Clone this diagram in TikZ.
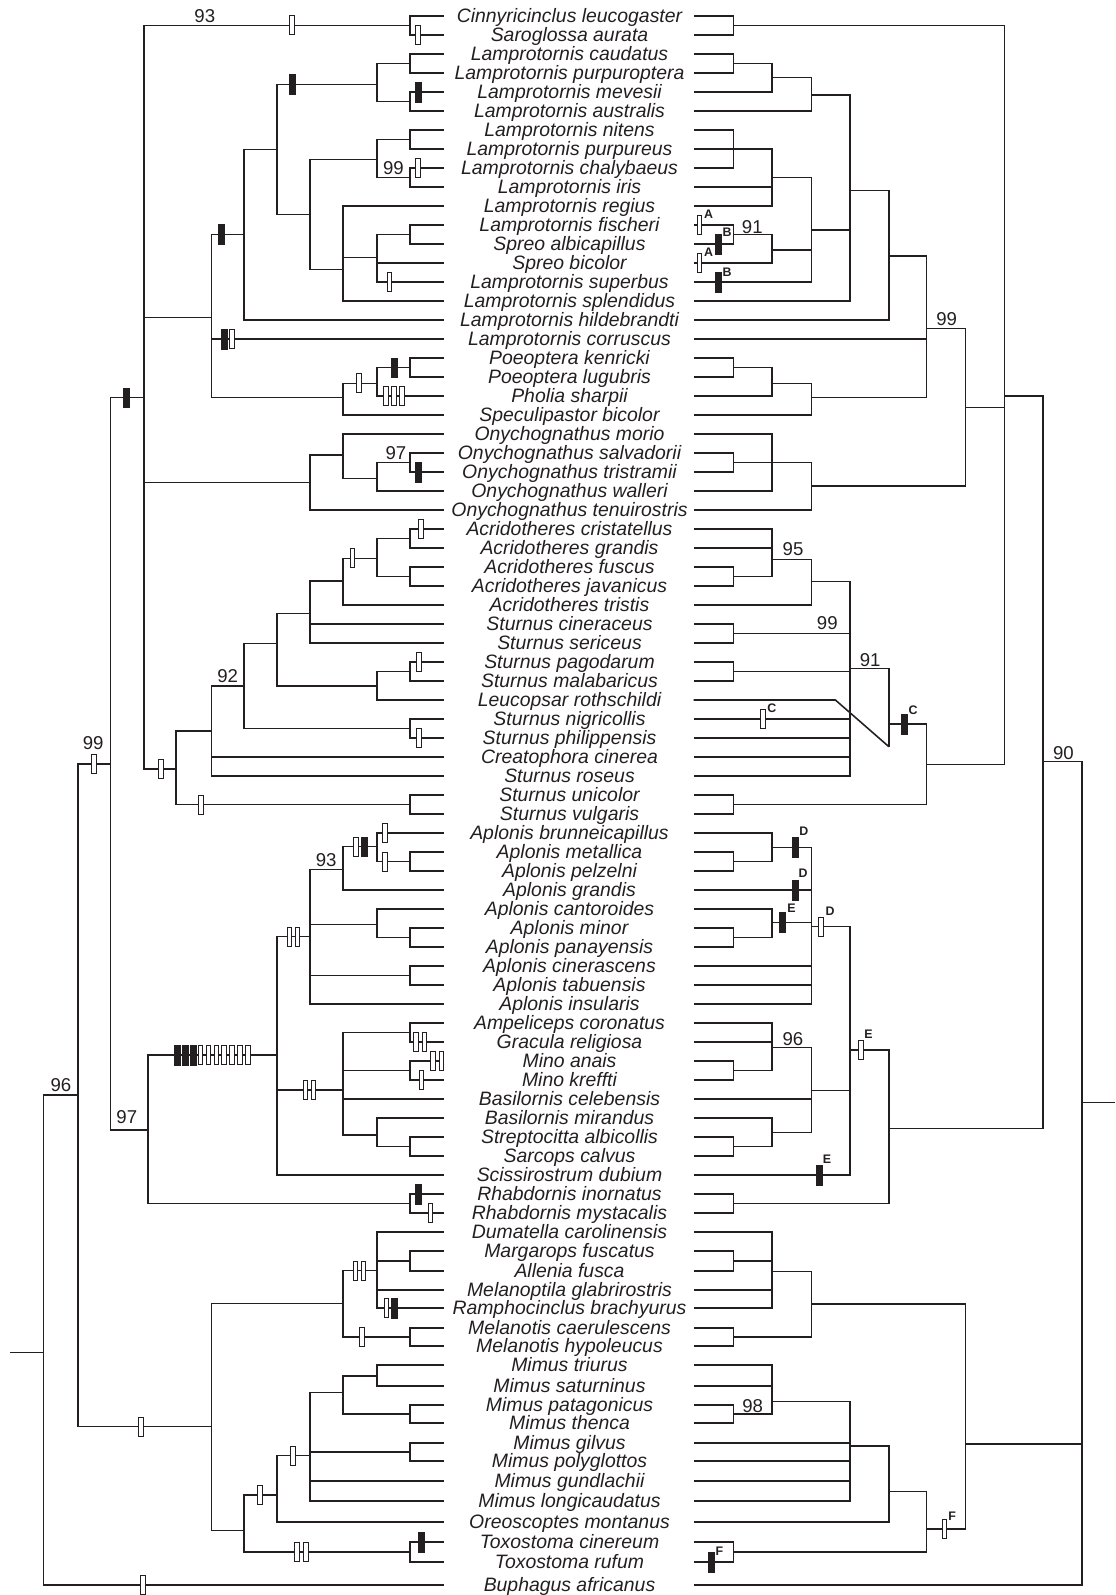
\documentclass[tikz,border=0pt]{standalone}
\usepackage{fontspec}
\setmainfont{Liberation Sans}
\definecolor{ln}{RGB}{35,31,32}
\newcounter{mkc}
\newcounter{lbc}
\newcounter{bsc}
\newcommand\tkids[2]{\foreach \cc in {#2} {\draw[tree] (#1) |- (\cc);}}
\newcommand\omk[2]{\stepcounter{mkc}\node[omark] (mk\arabic{mkc}) at (#1,#2) {};}
\newcommand\fmk[2]{\stepcounter{mkc}\node[fmark] (mk\arabic{mkc}) at (#1,#2) {};}
\newcommand\mlb[3]{\stepcounter{lbc}\node[mlabel] (lb\arabic{lbc}) at (#1,#2) {#3};}
\newcommand\bsn[3]{\stepcounter{bsc}\node[bsnum] (bs\arabic{bsc}) at (#1,#2) {#3};}
\def\lxA{43.6}\def\lxB{77.9}\def\lxC{110.7}\def\lxD{143.9}\def\lxDb{148.2}
\def\lxE{176.1}\def\lxF{211.4}\def\lxG{243.9}\def\lxH{276.8}\def\lxI{310}
\def\lxJ{342.9}\def\lxK{376.8}\def\lxL{410}\def\lxN{443.9}
\def\rxS{693.6}\def\rxA{733.6}\def\rxB{772.1}\def\rxC{811.4}\def\rxD{850}
\def\rxE{888.9}\def\rxF{926.4}\def\rxG{965.7}\def\rxH{1004.3}\def\rxI{1043.2}\def\rxJ{1081.8}
\begin{document}
\begin{tikzpicture}[x=0.5pt,y=-0.5pt,
  tree/.style={line width=0.78pt, draw=ln},
  omark/.style={draw=ln, fill=white, line width=0.5pt, minimum width=2.3pt, minimum height=9.5pt, inner sep=0pt, outer sep=0pt},
  fmark/.style={draw=ln, fill=ln, line width=0.2pt, minimum width=3pt, minimum height=9.8pt, inner sep=0pt, outer sep=0pt},
  taxon/.style={anchor=base, inner sep=0pt, font=\fontsize{9.7}{11}\selectfont\itshape, text=ln},
  bsnum/.style={inner sep=0pt, font=\fontsize{9.3}{10}\selectfont, text=ln},
  mlabel/.style={inner sep=0pt, font=\fontsize{6.2}{7}\selectfont\bfseries, text=ln}]
\path[use as bounding box] (0,0) rectangle (1115,1595);
% leaves and names
\foreach \yy/\tx [count=\ii] in {16/Cinnyricinclus leucogaster,35/Saroglossa aurata,54/Lamprotornis caudatus,73/Lamprotornis purpuroptera,92/Lamprotornis mevesii,111/Lamprotornis australis,130/Lamprotornis nitens,149/Lamprotornis purpureus,168/Lamprotornis chalybaeus,187/Lamprotornis iris,206/Lamprotornis regius,225/Lamprotornis fischeri,244/Spreo albicapillus,263/Spreo bicolor,282/Lamprotornis superbus,301/Lamprotornis splendidus,320/Lamprotornis hildebrandti,339/Lamprotornis corruscus,358/Poeoptera kenricki,377/Poeoptera lugubris,396/Pholia sharpii,415/Speculipastor bicolor,434/Onychognathus morio,453/Onychognathus salvadorii,472/Onychognathus tristramii,491/Onychognathus walleri,510/Onychognathus tenuirostris,529/Acridotheres cristatellus,548/Acridotheres grandis,567/Acridotheres fuscus,586/Acridotheres javanicus,605/Acridotheres tristis,624/Sturnus cineraceus,643/Sturnus sericeus,662/Sturnus pagodarum,681/Sturnus malabaricus,700/Leucopsar rothschildi,719/Sturnus nigricollis,738/Sturnus philippensis,757/Creatophora cinerea,776/Sturnus roseus,795/Sturnus unicolor,814/Sturnus vulgaris,833/Aplonis brunneicapillus,852/Aplonis metallica,871/Aplonis pelzelni,890/Aplonis grandis,909/Aplonis cantoroides,928/Aplonis minor,947/Aplonis panayensis,966/Aplonis cinerascens,985/Aplonis tabuensis,1004/Aplonis insularis,1023/Ampeliceps coronatus,1042/Gracula religiosa,1061/Mino anais,1080/Mino kreffti,1099/Basilornis celebensis,1118/Basilornis mirandus,1137/Streptocitta albicollis,1156/Sarcops calvus,1175/Scissirostrum dubium,1194/Rhabdornis inornatus,1213/Rhabdornis mystacalis,1232/Dumatella carolinensis,1251/Margarops fuscatus,1271/Allenia fusca,1290/Melanoptila glabrirostris,1308/Ramphocinclus brachyurus,1328/Melanotis caerulescens,1346/Melanotis hypoleucus,1365/Mimus triurus,1386/Mimus saturninus,1405/Mimus patagonicus,1423/Mimus thenca,1443/Mimus gilvus,1461/Mimus polyglottos,1481/Mimus gundlachii,1501/Mimus longicaudatus,1522/Oreoscoptes montanus,1542/Toxostoma cinereum,1562/Toxostoma rufum,1585/Buphagus africanus}{
  \coordinate (lf\ii) at (\lxN,\yy);
  \coordinate (rf\ii) at (\rxS,\yy);
  \node[taxon] (t\ii) at (569.5,\yy+6.65) {\tx};
}
% ---------------- left tree ----------------
\coordinate (L0) at (10,1352.7);
\coordinate (Lr) at (\lxA,1352.7);
\coordinate (L96) at (\lxB,1095);
\coordinate (L99) at (\lxC,764);
\coordinate (Lmim) at (\lxF,1426.7);
\coordinate (LA) at (\lxD,397.7);
\coordinate (L97) at (\lxDb,1130);
\coordinate (Ltop) at (\lxL,25.5);
\coordinate (LB) at (\lxF,317.7);
\coordinate (LOny) at (\lxI,482.7);
\coordinate (LSt) at (\lxE,769);
\coordinate (LC) at (\lxG,234.3);
\coordinate (LPo) at (\lxJ,397.7);
\coordinate (LD) at (\lxH,149.3);
\coordinate (LE1) at (\lxK,84.3);
\coordinate (LF) at (\lxI,214.3);
\coordinate (LG) at (\lxL,63.5);
\coordinate (LH) at (\lxL,101.5);
\coordinate (LI) at (\lxK,159.3);
\coordinate (LJ) at (\lxJ,269.3);
\coordinate (LK) at (\lxL,139.5);
\coordinate (LL) at (\lxL,177.5);
\coordinate (LM) at (\lxK,257.7);
\coordinate (LN) at (\lxL,234.5);
\coordinate (LP) at (\lxK,383.3);
\coordinate (LQ) at (\lxL,367.5);
\coordinate (LR) at (\lxJ,455);
\coordinate (LS) at (\lxK,478.3);
\coordinate (LT) at (\lxL,462.5);
\coordinate (LU) at (\lxF,731);
\coordinate (LV) at (\lxL,804.5);
\coordinate (LW) at (\lxG,686);
\coordinate (LX) at (\lxH,643.3);
\coordinate (LY) at (\lxL,728.5);
\coordinate (LZ) at (\lxI,613.3);
\coordinate (Laa) at (\lxK,686);
\coordinate (Lab) at (\lxL,671.5);
\coordinate (Lac) at (\lxJ,581);
\coordinate (Lad) at (\lxK,558.3);
\coordinate (Lae) at (\lxL,538.5);
\coordinate (Laf) at (\lxL,576.5);
\coordinate (Lag) at (\lxH,1055);
\coordinate (Lah) at (\lxL,1203.5);
\coordinate (Lai) at (\lxI,936.7);
\coordinate (Laj) at (\lxJ,1090);
\coordinate (Lak) at (\lxJ,869.3);
\coordinate (Lal) at (\lxK,924.3);
\coordinate (Lam) at (\lxL,975.5);
\coordinate (Lan) at (\lxK,846.7);
\coordinate (Lao) at (\lxL,861.5);
\coordinate (Lap) at (\lxL,937.5);
\coordinate (Laq) at (\lxL,1032.5);
\coordinate (Lar) at (\lxL,1070.5);
\coordinate (Las) at (\lxK,1135);
\coordinate (Lat) at (\lxL,1146.5);
\coordinate (Lau) at (\lxJ,1303.3);
\coordinate (Lav) at (\lxG,1530.7);
\coordinate (Law) at (\lxK,1270.7);
\coordinate (Lax) at (\lxL,1337);
\coordinate (Lay) at (\lxL,1261);
\coordinate (Laz) at (\lxH,1495);
\coordinate (Lba) at (\lxL,1552);
\coordinate (Lbb) at (\lxI,1455.7);
\coordinate (Lbc) at (\lxJ,1392.7);
\coordinate (Lbd) at (\lxL,1452);
\coordinate (Lbe) at (\lxK,1376);
\coordinate (Lbf) at (\lxL,1414);
\draw[tree] (L0) -- (Lr);
\tkids{Lr}{L96,lf83}
\tkids{L96}{L99,Lmim}
\tkids{L99}{LA,L97}
\tkids{LA}{Ltop,LB,LOny,LSt}
\tkids{Ltop}{lf1,lf2}
\tkids{LB}{LC,lf18,LPo}
\tkids{LC}{LD,lf17}
\tkids{LD}{LE1,LF}
\tkids{LE1}{LG,LH}
\tkids{LG}{lf3,lf4}
\tkids{LH}{lf5,lf6}
\tkids{LF}{LI,LJ}
\tkids{LI}{LK,LL}
\tkids{LK}{lf7,lf8}
\tkids{LL}{lf9,lf10}
\tkids{LJ}{lf11,LM,lf16}
\tkids{LM}{LN,lf14,lf15}
\tkids{LN}{lf12,lf13}
\tkids{LPo}{LP,lf22}
\tkids{LP}{LQ,lf21}
\tkids{LQ}{lf19,lf20}
\tkids{LOny}{LR,lf27}
\tkids{LR}{lf23,LS}
\tkids{LS}{LT,lf26}
\tkids{LT}{lf24,lf25}
\tkids{LSt}{LU,LV}
\tkids{LV}{lf42,lf43}
\tkids{LU}{LW,lf40,lf41}
\tkids{LW}{LX,LY}
\tkids{LY}{lf38,lf39}
\tkids{LX}{LZ,Laa}
\tkids{Laa}{Lab,lf37}
\tkids{Lab}{lf35,lf36}
\tkids{LZ}{Lac,lf33,lf34}
\tkids{Lac}{Lad,lf32}
\tkids{Lad}{Lae,Laf}
\tkids{Lae}{lf28,lf29}
\tkids{Laf}{lf30,lf31}
\tkids{L97}{Lag,Lah}
\tkids{Lah}{lf63,lf64}
\tkids{Lag}{Lai,Laj,lf62}
\tkids{Lai}{Lak,Lal,Lam,lf53}
\tkids{Lak}{Lan,lf47}
\tkids{Lan}{lf44,Lao}
\tkids{Lao}{lf45,lf46}
\tkids{Lal}{lf48,Lap}
\tkids{Lap}{lf49,lf50}
\tkids{Lam}{lf51,lf52}
\tkids{Laj}{Laq,Lar,lf58,Las}
\tkids{Laq}{lf54,lf55}
\tkids{Lar}{lf56,lf57}
\tkids{Las}{lf59,Lat}
\tkids{Lat}{lf60,lf61}
\tkids{Lmim}{Lau,Lav}
\tkids{Lau}{Law,Lax}
\tkids{Lax}{lf70,lf71}
\tkids{Law}{lf65,Lay,lf68,lf69}
\tkids{Lay}{lf66,lf67}
\tkids{Lav}{Laz,Lba}
\tkids{Lba}{lf81,lf82}
\tkids{Laz}{Lbb,lf80}
\tkids{Lbb}{Lbc,Lbd,lf78,lf79}
\tkids{Lbc}{Lbe,Lbf}
\tkids{Lbe}{lf72,lf73}
\tkids{Lbf}{lf74,lf75}
\tkids{Lbd}{lf76,lf77}
% left marks
\omk{142.9}{1585}
\omk{93.9}{764}
\omk{141.1}{1426.7}
\fmk{126.1}{397.7}
\omk{291.8}{25.5}
\omk{417.9}{35}
\omk{160.7}{769}
\fmk{221.4}{234.3}
\fmk{224}{339}\omk{232}{339}
\omk{358.9}{383.3}
\fmk{393.9}{367.5}
\omk{385.7}{396}\omk{393.9}{396}\omk{401.8}{396}
\fmk{291.8}{84.3}
\fmk{417.9}{92}
\omk{417.9}{168}
\omk{389.3}{282}
\fmk{417.9}{472}
\omk{201.1}{804.5}
\omk{418.9}{738}
\omk{418.9}{662}
\omk{352.5}{558.3}
\omk{420.7}{529}
\foreach \xx in {177,184.9,192.8} {\fmk{\xx}{1055}}
\foreach \xx in {200.6,208.5,216.3,224.2,232,239.9,247.7} {\omk{\xx}{1055}}
\fmk{418.6}{1194}\omk{430.4}{1213}
\omk{289.3}{936.7}\omk{297.5}{936.7}
\omk{305.4}{1090}\omk{313.6}{1090}
\omk{356.1}{846.7}\fmk{364.3}{846.7}
\omk{385}{833}\omk{385}{861.5}
\omk{416.1}{1042}\omk{424.3}{1042}
\omk{433.2}{1061}\omk{441.4}{1061}
\omk{421.4}{1080}
\omk{355.4}{1270.7}\omk{363.6}{1270.7}
\omk{361.8}{1337}
\omk{386.4}{1308}\fmk{394.6}{1308}
\omk{260}{1495}
\omk{292.9}{1455.7}
\omk{297.1}{1552}\omk{306.1}{1552}
\fmk{421.4}{1542}
% left support values
\bsn{204.8}{16}{93}
\bsn{393.4}{168}{99}
\bsn{395.9}{453}{97}
\bsn{227.7}{676}{92}
\bsn{93.2}{743.3}{99}
\bsn{326.2}{860}{93}
\bsn{126.8}{1117.5}{97}
\bsn{61}{1085.5}{96}
% ---------------- right tree ----------------
\coordinate (R0) at (1115,1102.7);
\coordinate (Rr) at (\rxJ,1102.7);
\coordinate (R90) at (\rxI,761.7);
\coordinate (Rmim) at (\rxG,1444);
\coordinate (Ra) at (\rxH,396);
\coordinate (Rb) at (\rxE,1128.3);
\coordinate (Rc) at (\rxA,25.5);
\coordinate (Rd) at (\rxG,407.3);
\coordinate (Re) at (\rxF,764.3);
\coordinate (Rf) at (\rxF,328.3);
\coordinate (Rg) at (\rxC,486);
\coordinate (Rh) at (\rxE,256);
\coordinate (Ri) at (\rxC,397.7);
\coordinate (Rj) at (\rxD,190.7);
\coordinate (Rk) at (\rxC,95);
\coordinate (Rl) at (\rxC,230);
\coordinate (Rm) at (\rxB,77.7);
\coordinate (Rn) at (\rxA,63.5);
\coordinate (Ro) at (\rxB,177.7);
\coordinate (Rp) at (\rxB,250);
\coordinate (Rq) at (\rxA,149);
\coordinate (Rs) at (\rxA,234.5);
\coordinate (Rt) at (\rxB,383.3);
\coordinate (Ru) at (\rxA,367.5);
\coordinate (Rv) at (\rxB,462.5);
\coordinate (Rw) at (\rxA,462.5);
\coordinate (Rx) at (\rxE,724);
\coordinate (Ry) at (\rxA,804.5);
\coordinate (Rz) at (\rxD,668.5);
\coordinate (Rleu) at (\rxE,746.7);
\coordinate (Rleub) at (835.4,700);
\coordinate (Rba) at (\rxC,581.7);
\coordinate (Rbb) at (\rxA,633.5);
\coordinate (Rbc) at (\rxA,671.5);
\coordinate (Rbd) at (\rxB,559.3);
\coordinate (Rbe) at (\rxA,576.5);
\coordinate (Rbf) at (\rxD,1050);
\coordinate (Rbg) at (\rxA,1203.5);
\coordinate (Rbh) at (\rxC,926.7);
\coordinate (Rbi) at (\rxC,1090.7);
\coordinate (Rbj) at (\rxB,847.3);
\coordinate (Rbk) at (\rxB,922.3);
\coordinate (Rbl) at (\rxA,861.5);
\coordinate (Rbm) at (\rxA,937.5);
\coordinate (Rbn) at (\rxB,1047.7);
\coordinate (Rbo) at (\rxB,1132.7);
\coordinate (Rbp) at (\rxA,1070.5);
\coordinate (Rbq) at (\rxA,1146.5);
\coordinate (Rbr) at (\rxC,1304);
\coordinate (Rbs) at (\rxF,1529);
\coordinate (Rbt) at (\rxB,1271.7);
\coordinate (Rbu) at (\rxA,1337);
\coordinate (Rbv) at (\rxA,1261);
\coordinate (Rbw) at (\rxE,1491.7);
\coordinate (Rbx) at (\rxA,1552);
\coordinate (Rby) at (\rxD,1446);
\coordinate (Rbz) at (\rxB,1401.7);
\coordinate (Rca) at (\rxA,1414);
\draw[tree] (R0) -- (Rr);
\tkids{Rr}{R90,Rmim,rf83}
\tkids{R90}{Ra,Rb}
\tkids{Ra}{Rc,Rd,Re}
\tkids{Rc}{rf1,rf2}
\tkids{Rd}{Rf,Rg}
\tkids{Rf}{Rh,rf18,Ri}
\tkids{Rh}{Rj,rf17}
\tkids{Rj}{Rk,Rl,rf16}
\tkids{Rk}{Rm,rf6}
\tkids{Rm}{Rn,rf5}
\tkids{Rn}{rf3,rf4}
\tkids{Rl}{Ro,Rp,rf15}
\tkids{Ro}{Rq,rf10,rf11}
\tkids{Rq}{rf7,rf8,rf9}
\tkids{Rp}{Rs,rf14}
\tkids{Rs}{rf12,rf13}
\tkids{Ri}{Rt,rf22}
\tkids{Rt}{Ru,rf21}
\tkids{Ru}{rf19,rf20}
\tkids{Rg}{Rv,rf27}
\tkids{Rv}{rf23,Rw,rf26}
\tkids{Rw}{rf24,rf25}
\tkids{Re}{Rx,Ry}
\tkids{Ry}{rf42,rf43}
\tkids{Rx}{Rz,Rleu}
\draw[tree] (rf37) -- (Rleub) -- (Rleu);
\tkids{Rz}{Rba,Rbb,Rbc,rf38,rf39,rf40,rf41}
\tkids{Rba}{Rbd,rf32}
\tkids{Rbd}{rf28,rf29,Rbe}
\tkids{Rbe}{rf30,rf31}
\tkids{Rbb}{rf33,rf34}
\tkids{Rbc}{rf35,rf36}
\tkids{Rb}{Rbf,Rbg}
\tkids{Rbg}{rf63,rf64}
\tkids{Rbf}{Rbh,Rbi,rf62}
\tkids{Rbh}{Rbj,rf47,Rbk,rf51,rf52,rf53}
\tkids{Rbj}{rf44,Rbl}
\tkids{Rbl}{rf45,rf46}
\tkids{Rbk}{rf48,Rbm}
\tkids{Rbm}{rf49,rf50}
\tkids{Rbi}{Rbn,rf58,Rbo}
\tkids{Rbn}{rf54,rf55,Rbp}
\tkids{Rbp}{rf56,rf57}
\tkids{Rbo}{rf59,Rbq}
\tkids{Rbq}{rf60,rf61}
\tkids{Rmim}{Rbr,Rbs}
\tkids{Rbr}{Rbt,Rbu}
\tkids{Rbu}{rf70,rf71}
\tkids{Rbt}{rf65,Rbv,rf68,rf69}
\tkids{Rbv}{rf66,rf67}
\tkids{Rbs}{Rbw,Rbx}
\tkids{Rbx}{rf81,rf82}
\tkids{Rbw}{Rby,rf80}
\tkids{Rby}{Rbz,rf76,rf77,rf78,rf79}
\tkids{Rbz}{rf72,rf73,Rca}
\tkids{Rca}{rf74,rf75}
% right marks with letters
\omk{699.6}{225}\mlb{708.6}{214}{A}
\fmk{718.6}{244}\mlb{727.1}{232}{B}
\omk{699.6}{263}\mlb{708.6}{252}{A}
\fmk{718.6}{282}\mlb{727.1}{272}{B}
\omk{763.2}{719}\mlb{771.8}{708.3}{C}
\fmk{904.3}{724}\mlb{913.2}{710}{C}
\fmk{795.4}{847.3}\mlb{803.9}{831.7}{D}
\fmk{795.4}{890}\mlb{803.2}{873.3}{D}
\fmk{782.5}{922.3}\mlb{791.4}{908.3}{E}
\omk{821.1}{926.7}\mlb{830}{911.7}{D}
\omk{861.1}{1050}\mlb{868.6}{1034}{E}
\fmk{819.3}{1175}\mlb{827.1}{1159.3}{E}
\fmk{711.1}{1562}\mlb{719.3}{1551}{F}
\omk{944.3}{1529}\mlb{952.1}{1516}{F}
% right support values
\bsn{752.3}{226.7}{91}
\bsn{946.6}{318.8}{99}
\bsn{793}{549.3}{95}
\bsn{827.3}{623.3}{99}
\bsn{870.2}{660}{91}
\bsn{1063.4}{752.7}{90}
\bsn{792.9}{1038.7}{96}
\bsn{752.7}{1406.3}{98}
\end{tikzpicture}
\end{document}
